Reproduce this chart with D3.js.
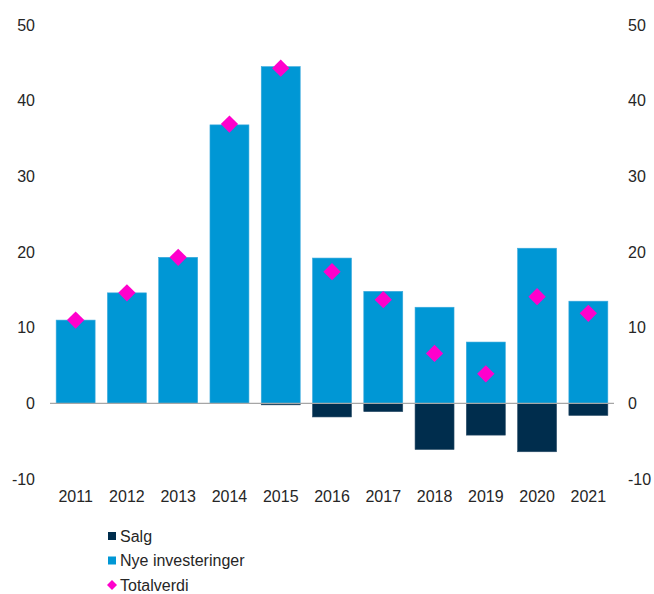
<!DOCTYPE html>
<html>
<head>
<meta charset="utf-8">
<script src="https://cdn.jsdelivr.net/npm/d3@7"></script>
<style>
  body { margin: 0; background: #fff; }
  text { font-family: "Liberation Sans", Arial, sans-serif; fill: #262626; }
</style>
</head>
<body>
<svg id="chart" width="654" height="594"></svg>
<script>
// years on the x axis
var years = ["2011","2012","2013","2014","2015","2016","2017","2018","2019","2020","2021"]
// series
var salg = [0, 0, 0, 0, -0.2, -1.8, -1.1, -6.1, -4.2, -6.4, -1.6]
var nyeInvesteringer = [11.0, 14.6, 19.3, 36.8, 44.5, 19.2, 14.8, 12.7, 8.1, 20.5, 13.5]
var totalverdi = [11.0, 14.6, 19.3, 36.9, 44.3, 17.4, 13.7, 6.6, 3.9, 14.1, 11.9]
var yTicks = [-10, 0, 10, 20, 30, 40, 50]

var colors = { salg: "#002d4d", nye: "#0097d5", total: "#ff00cc" }

var svg = d3.select("#chart")
var plotLeft = 50, plotRight = 614, plotTop = 25, plotBottom = 479

var x = d3.scaleBand().domain(years).range([plotLeft, plotRight]).paddingInner(0.24).paddingOuter(0.12)
var y = d3.scaleLinear().domain([-10, 50]).range([plotBottom, plotTop])

// bars: new investments (positive) and sales (negative)
svg.append("g").selectAll("rect.nye")
  .data(years)
  .enter().append("rect")
  .attr("class", "nye")
  .attr("x", d => x(d))
  .attr("width", x.bandwidth())
  .attr("y", (d, i) => y(nyeInvesteringer[i]))
  .attr("height", (d, i) => y(0) - y(nyeInvesteringer[i]))
  .style("fill", colors.nye)
  .style("stroke", "#3aa9dd")
  .style("stroke-width", 0.6)

svg.append("g").selectAll("rect.salg")
  .data(years.filter((d, i) => salg[i] < 0))
  .enter().append("rect")
  .attr("class", "salg")
  .attr("x", d => x(d))
  .attr("width", x.bandwidth())
  .attr("y", y(0))
  .attr("height", d => y(salg[years.indexOf(d)]) - y(0))
  .style("fill", colors.salg)
  .style("stroke", "#2a4d68")
  .style("stroke-width", 0.6)

// zero line
svg.append("line")
  .attr("x1", plotLeft).attr("x2", plotRight)
  .attr("y1", y(0)).attr("y2", y(0))
  .style("stroke", "#a6a6a6")
  .style("stroke-width", 1.3)

// total value diamonds
var diamond = d3.symbol().type(d3.symbolSquare).size(150)
svg.append("g").selectAll("path.total")
  .data(years)
  .enter().append("path")
  .attr("class", "total")
  .attr("d", diamond)
  .attr("transform", (d, i) => "translate(" + (x(d) + x.bandwidth() / 2) + "," + y(totalverdi[i]) + ") rotate(45)")
  .style("fill", colors.total)

// axes (labels only) - plain hyphen for negatives
var fmt = d => String(d)
var yAxisL = d3.axisLeft(y).tickValues(yTicks).tickFormat(fmt).tickSize(0).tickPadding(15)
var yAxisR = d3.axisRight(y).tickValues(yTicks).tickFormat(fmt).tickSize(0).tickPadding(14)
var gl = svg.append("g").attr("transform", "translate(" + plotLeft + ",0)").call(yAxisL)
var gr = svg.append("g").attr("transform", "translate(" + plotRight + ",0)").call(yAxisR)
var gx = svg.append("g").attr("transform", "translate(0," + plotBottom + ")").call(d3.axisBottom(x).tickSize(0).tickPadding(12))
;[gl, gr, gx].forEach(g => {
  g.select(".domain").remove()
  g.selectAll("text").style("font-size", "16px").style("fill", "#262626").style("font-family", "Liberation Sans, Arial, sans-serif")
})

// legend
var legend = [
  { label: "Salg", color: colors.salg, shape: "square" },
  { label: "Nye investeringer", color: colors.nye, shape: "square" },
  { label: "Totalverdi", color: colors.total, shape: "diamond" }
]
var lg = svg.append("g").selectAll("g")
  .data(legend)
  .enter().append("g")
  .attr("transform", (d, i) => "translate(110," + (536 + i * 24.5) + ")")
lg.filter(d => d.shape === "square").append("rect")
  .attr("x", -2).attr("y", -4).attr("width", 8).attr("height", 8)
  .style("fill", d => d.color)
lg.filter(d => d.shape === "diamond").append("path")
  .attr("d", d3.symbol().type(d3.symbolSquare).size(50))
  .attr("transform", "translate(2,0) rotate(45)")
  .style("fill", d => d.color)
lg.append("text")
  .attr("x", 10).attr("dy", "0.35em")
  .style("font-size", "16px")
  .text(d => d.label)
</script>
</body>
</html>
